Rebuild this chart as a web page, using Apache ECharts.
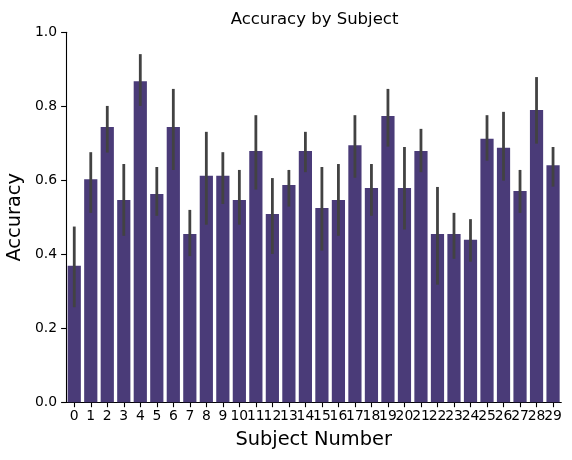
<!DOCTYPE html>
<html>
<head>
<meta charset="utf-8">
<script src="https://cdn.jsdelivr.net/npm/echarts@6/dist/echarts.min.js"></script>
<style>html,body{margin:0;padding:0;background:#fff}#c{width:572px;height:460px}</style>
</head>
<body>
<div id="c"></div>
<script>
const subjects = ["0","1","2","3","4","5","6","7","8","9","10","11","12","13","14","15","16","17","18","19","20","21","22","23","24","25","26","27","28","29"];
const meanAcc = [0.369,0.603,0.744,0.547,0.868,0.563,0.744,0.455,0.612,0.612,0.547,0.679,0.509,0.587,0.679,0.525,0.547,0.695,0.579,0.774,0.579,0.679,0.455,0.455,0.439,0.712,0.688,0.571,0.790,0.641];
const ciLow = [0.257,0.512,0.675,0.450,0.801,0.504,0.628,0.395,0.480,0.536,0.480,0.575,0.401,0.529,0.622,0.410,0.450,0.607,0.504,0.691,0.467,0.622,0.318,0.388,0.380,0.653,0.599,0.512,0.699,0.583];
const ciHigh = [0.475,0.676,0.801,0.644,0.941,0.636,0.847,0.520,0.731,0.676,0.628,0.776,0.606,0.628,0.731,0.636,0.644,0.776,0.644,0.847,0.690,0.739,0.582,0.512,0.495,0.776,0.785,0.628,0.879,0.690];
const yTicks = [0.0,0.2,0.4,0.6,0.8,1.0];

const font = "DejaVu Sans";
const chart = echarts.init(document.getElementById('c'), null, {renderer:'canvas'});
const errData = subjects.map((s,i)=>[i, ciLow[i], ciHigh[i]]);
chart.setOption({
  animation: false,
  title: {
    text: 'Accuracy by Subject',
    left: 309.5, top: 6, textAlign: 'center',
    textStyle: {fontFamily: font, fontSize: 16.5, fontWeight: 'normal', color: '#000'}
  },
  grid: {left: 66, right: 10.7, top: 32.3, bottom: 57.7, containLabel: false, outerBoundsMode: 'none'},
  xAxis: {
    type: 'category', data: subjects,
    name: 'Subject Number', nameLocation: 'middle', nameGap: 28,
    nameTextStyle: {fontFamily: font, fontSize: 19.4, color: '#000'},
    axisLine: {show: true, lineStyle: {color: '#000', width: 1.1}},
    axisTick: {show: true, alignWithLabel: true, length: 4.9, lineStyle: {color: '#000', width: 1.1}},
    axisLabel: {interval: 0, fontFamily: font, fontSize: 13.9, color: '#000', margin: 7},
    splitLine: {show: false}
  },
  yAxis: {
    type: 'value', min: 0, max: 1, interval: 0.2,
    name: 'Accuracy', nameLocation: 'middle', nameGap: 40,
    nameTextStyle: {fontFamily: font, fontSize: 19.4, color: '#000'},
    axisLine: {show: true, lineStyle: {color: '#000', width: 1.1}},
    axisTick: {show: true, length: 4.9, lineStyle: {color: '#000', width: 1.1}},
    axisLabel: {fontFamily: font, fontSize: 13.9, color: '#000', margin: 9,
      formatter: v => { const t = yTicks.find(x => Math.abs(x - v) < 1e-9); return (t !== undefined ? t : v).toFixed(1); }},
    splitLine: {show: false}
  },
  series: [
    {
      type: 'bar', data: meanAcc, barWidth: '80%',
      itemStyle: {color: '#4a3b78'}
    },
    {
      type: 'custom', data: errData, z: 10,
      renderItem: function(params, api) {
        const i = api.value(0);
        const p1 = api.coord([i, api.value(1)]);
        const p2 = api.coord([i, api.value(2)]);
        return {type: 'line', shape: {x1: p1[0], y1: p1[1], x2: p2[0], y2: p2[1]},
          style: {stroke: '#424242', lineWidth: 2.8}};
      }
    }
  ]
});
</script>
</body>
</html>
